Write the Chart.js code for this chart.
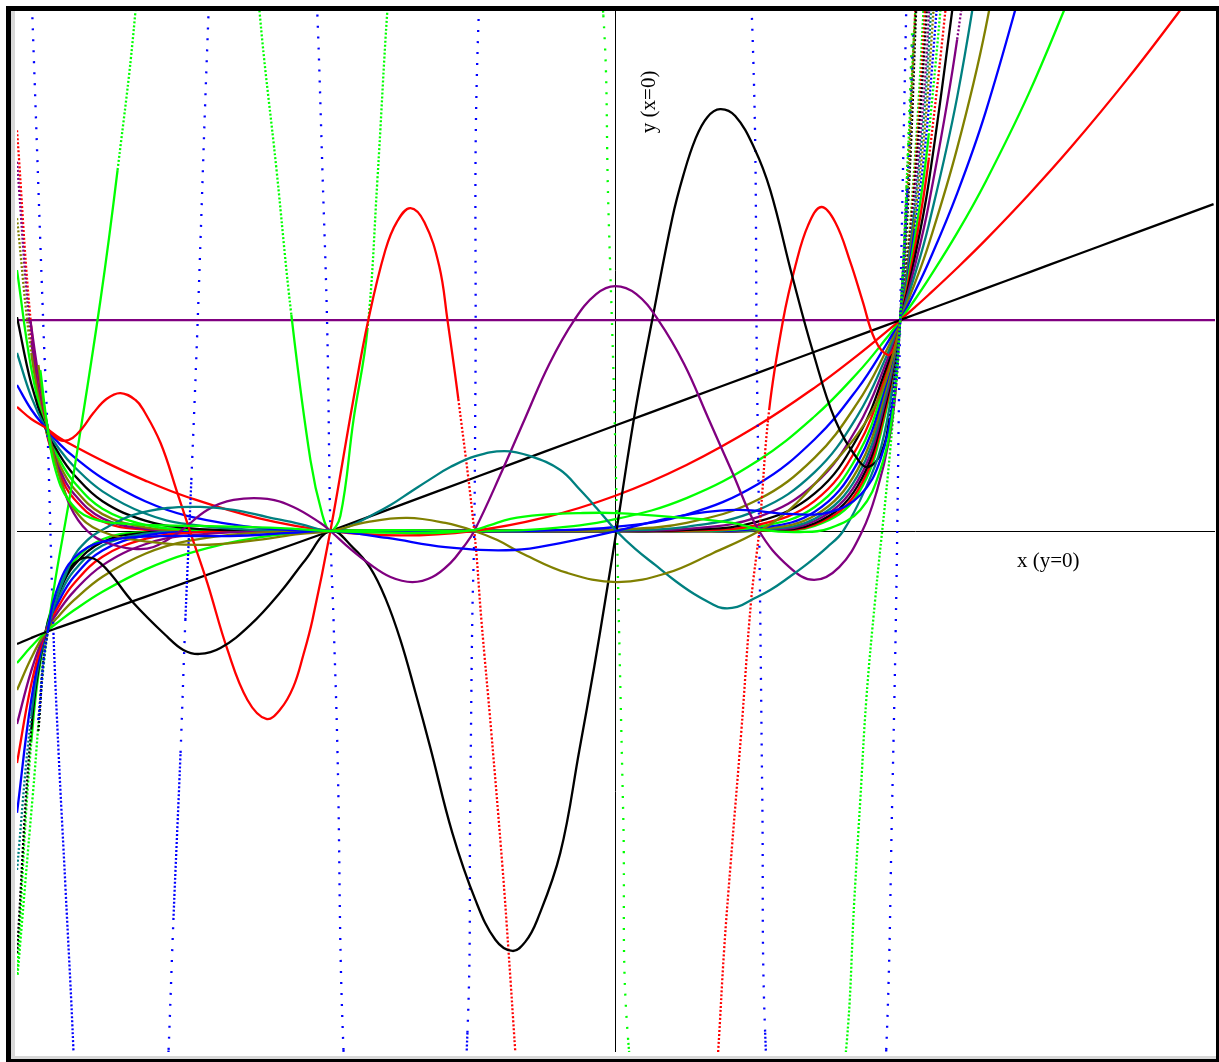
<!DOCTYPE html>
<html>
<head>
<meta charset="utf-8">
<script src="https://cdn.jsdelivr.net/npm/chart.js@4.4.1/dist/chart.umd.min.js"></script>
<style>
  html, body { margin: 0; padding: 0; background: #fff; }
  #wrap { position: relative; width: 1219px; height: 1062px; }
</style>
</head>
<body>
<div id="wrap"><canvas id="plot" width="1219" height="1062"></canvas></div>
<script>
// shared x grid for the fan of steepening curves
const fanX = [-2.1, -2.05, -2, -1.95, -1.9, -1.8, -1.65, -1.5, -1.25, -1, -0.75, -0.5, -0.25, 0, 0.25, 0.5, 0.7, 0.85, 0.95, 1, 1.05, 1.1, 1.2, 1.3, 1.45, 1.6, 1.8, 2.0, 2.1];

const fan1 = [-0.536,-0.507,-0.48,-0.456,-0.432,-0.384,-0.312,-0.24,-0.12, 0,0.125,0.25,0.375,0.5, 0.625,0.75,0.85,0.925,0.975, 1,1.025,1.05,1.1,1.15, 1.225,1.3,1.4,1.5,1.55];
const fan2 = [0.588,0.531,0.49,0.441,0.403,0.333,0.239,0.16,0.06, 0,-0.021,0,0.063,0.167, 0.313,0.5,0.68,0.833,0.943, 1,1.059,1.12,1.247,1.38, 1.593,1.82,2.147,2.5,2.687];
const fan3 = [-0.626,-0.548,-0.48,-0.426,-0.376,-0.288,-0.183,-0.107,-0.03, 0,0.004,0,0.01,0.056, 0.156,0.333,0.544,0.749,0.911, 1,1.094,1.195,1.413,1.656, 2.07,2.548,null,null,null];
const fan4 = [0.692,0.576,0.49,0.412,0.351,0.25,0.141,0.071,0.015, 0,-0.001,0,0.002,0.019, 0.078,0.222,0.435,0.674,0.881, 1,1.131,1.274,1.601,1.987, 2.691,null,null,null,null];
const fan5 = [-0.754,-0.602,-0.48,-0.398,-0.328,-0.217,-0.108,-0.047,-0.008, 0,0,0,0,0.006, 0.039,0.148,0.348,0.607,0.851, 1,1.169,1.359,1.815,2.385, 3.499,null,null,null,null];
const fan6 = [0.844,0.636,0.49,0.385,0.306,0.188,0.083,0.032,0.004, 0,0,0,0,0.002, 0.02,0.099,0.279,0.546,0.823, 1,1.208,1.45,2.057,2.862, null,null,null,null,null];
const fan7 = [-0.915,-0.663,-0.48,-0.372,-0.286,-0.163,-0.063,-0.021,-0.002, 0,0,0,0,0.001, 0.01,0.066,0.223,0.492,0.796, 1,1.248,1.547,2.331,3.434, null,null,null,null,null];
const fan8 = [1.014,0.698,0.49,0.36,0.267,0.141,0.049,0.014,0.001, 0,0,0,0,0, 0.005,0.044,0.178,0.442,0.769, 1,1.289,1.65,2.642,null, null,null,null,null,null];
const fan9 = [-1.1,-0.727,-0.48,-0.348,-0.249,-0.122,-0.037,-0.009,0, 0,0,0,0,0, 0.002,0.029,0.143,0.398,0.743, 1,1.332,1.76,2.994,null, null,null,null,null,null];
const fan10 = [1.237,0.771,0.49,0.336,0.232,0.106,0.029,0.006,0, 0,0,0,0,0, 0.001,0.02,0.114,0.358,0.719, 1,1.377,1.877,3.393,null, null,null,null,null,null];
const fan11 = [-1.336,-0.801,-0.48,-0.325,-0.217,-0.092,-0.022,-0.004,0, 0,0,0,0,0, 0.001,0.013,0.091,0.323,0.695, 1,1.423,2.002,3.85,null, null,null,null,null,null];
const fan12 = [1.483,0.844,0.49,0.314,0.202,0.08,0.017,0.003,0, 0,0,0,0,0, 0,0.009,0.073,0.29,0.672, 1,1.47,2.136,4.36,null, null,null,null,null,null];
const fan13 = [-1.607,-0.878,-0.48,-0.304,-0.189,-0.069,-0.013,-0.002,0, 0,0,0,0,0, 0,0.006,0.058,0.261,0.649, 1,1.519,2.278,4.94,null, null,null,null,null,null];
const fan14 = [1.75,0.903,0.49,0.294,0.176,0.06,0.01,0.001,0, 0,0,0,0,0, 0,0.004,0.047,0.235,0.628, 1,1.57,2.43,5.6,null, null,null,null,null,null];
const fan15 = [-2.0,-0.942,-0.48,-0.284,-0.164,-0.052,-0.008,-0.001,0, 0,0,0,0,0, 0,0.003,0.037,0.212,0.607, 1,1.622,2.592,null,null, null,null,null,null,null];
const fan16 = [1.9,0.967,0.49,0.274,0.153,0.045,0.006,0,0, 0,0,0,0,0, 0,0.002,0.03,0.19,0.586, 1,1.676,2.765,null,null, null,null,null,null,null];
const fan17 = [-2.1,-1.004,-0.48,-0.265,-0.143,-0.039,-0.004,0,0, 0,0,0,0,0, 0,0.001,0.024,0.171,0.567, 1,1.732,2.949,null,null, null,null,null,null,null];

const flatX = [-2.1, 2.105];
const flatY = [1, 1];

// wavy curves
const waveBlackX = [-2.025,-1.993,-1.923,-1.867,-1.807,-1.691,-1.572,-1.516,-1.46,-1.386,-1.281,-1.175,-1.088,-1.0,-0.919,-0.86,-0.807,-0.754,-0.702,-0.649,-0.572,-0.491,-0.421,-0.361,-0.316,-0.274,-0.193,-0.126,-0.074,-0.035,0.004,0.042,0.081,0.133,0.2,0.239,0.281,0.323,0.368,0.421,0.488,0.544,0.621,0.695,0.772,0.853,0.888,0.933,0.961,1.0,1.032,1.056];
const waveBlackY = [-0.948,-0.483,-0.199,-0.128,-0.152,-0.341,-0.502,-0.564,-0.583,-0.555,-0.445,-0.289,-0.137,0,-0.081,-0.175,-0.318,-0.517,-0.763,-1.028,-1.431,-1.749,-1.938,-1.991,-1.948,-1.844,-1.526,-1.038,-0.645,-0.327,0,0.336,0.654,1.024,1.483,1.687,1.858,1.962,2.0,1.967,1.815,1.616,1.209,0.844,0.526,0.336,0.303,0.37,0.526,1.0,1.664,2.469];

const waveRedX = [-2.025,-1.993,-1.965,-1.937,-1.905,-1.87,-1.832,-1.786,-1.737,-1.684,-1.656,-1.596,-1.537,-1.491,-1.432,-1.361,-1.291,-1.225,-1.175,-1.13,-1.095,-1.063,-1.0,-0.919,-0.867,-0.807,-0.765,-0.719,-0.67,-0.618,-0.589,-0.551,-0.495,-0.47,-0.435,-0.396,-0.375,-0.351,-0.316,0,0.326,0.361,0.382,0.404,0.442,0.477,0.505,0.54,0.589,0.632,0.677,0.723,0.772,0.825,0.867,0.912,0.958,0.982,1.0,1.028,1.053];
const waveRedY = [0.763,0.493,0.445,0.427,0.441,0.488,0.559,0.626,0.654,0.621,0.573,0.417,0.18,-0.009,-0.246,-0.564,-0.801,-0.891,-0.844,-0.739,-0.588,-0.422,0,0.626,1.0,1.332,1.469,1.531,1.464,1.256,1.0,0.626,0,-0.422,-0.957,-1.592,-1.986,-2.469,-3.17,-6,-3.17,-2.469,-1.986,-1.592,-0.957,-0.327,0,0.573,1.0,1.256,1.45,1.536,1.464,1.275,1.095,0.905,0.834,0.882,1.0,1.664,2.469];

const wavePurpleX = [-2.053,-2.025,-1.993,-1.958,-1.912,-1.853,-1.782,-1.691,-1.621,-1.526,-1.432,-1.34,-1.221,-1.13,-1.035,-1.0,-0.93,-0.867,-0.789,-0.712,-0.642,-0.579,-0.533,-0.495,-0.396,-0.316,-0.232,-0.144,-0.067,0,0.074,0.151,0.242,0.326,0.407,0.505,0.611,0.698,0.786,0.867,0.919,0.961,0.986,1.0,1.021,1.042];
const wavePurpleY = [1.0,0.739,0.493,0.303,0.114,0,-0.057,-0.085,-0.076,0,0.1,0.147,0.152,0.114,0.038,0,-0.085,-0.152,-0.218,-0.242,-0.218,-0.152,-0.076,0,0.289,0.536,0.791,1.0,1.123,1.161,1.123,1.0,0.791,0.536,0.289,0,-0.171,-0.232,-0.171,0,0.194,0.431,0.692,1.0,1.569,2.327];

const waveTealX = [-2.025,-1.993,-1.912,-1.853,-1.782,-1.691,-1.572,-1.456,-1.34,-1.221,-1.105,-1.0,-0.93,-0.86,-0.789,-0.719,-0.649,-0.579,-0.491,-0.389,-0.298,-0.193,-0.123,-0.06,0.004,0.07,0.14,0.211,0.277,0.333,0.375,0.428,0.477,0.544,0.611,0.677,0.744,0.8,0.881,0.933,0.972,1.0,1.025,1.046];
const waveTealY = [-0.896,-0.483,-0.152,-0.043,0.019,0.076,0.109,0.114,0.1,0.066,0.033,0,0.024,0.071,0.123,0.185,0.246,0.303,0.355,0.379,0.355,0.289,0.194,0.1,0,-0.085,-0.161,-0.237,-0.299,-0.341,-0.365,-0.36,-0.327,-0.28,-0.218,-0.152,-0.076,0,0.209,0.398,0.668,1.0,1.616,2.374];

const waveOliveX = [-2.025,-1.993,-1.947,-1.895,-1.807,-1.632,-1.456,-1.281,-1.105,-1.0,-0.867,-0.73,-0.596,-0.495,-0.414,-0.33,-0.168,0.007,0.182,0.344,0.505,0.611,0.744,0.853,0.93,0.975,1.0,1.025,1.049];
const waveOliveY = [0.787,0.493,0.242,0.095,0,-0.052,-0.066,-0.047,-0.014,0,0.043,0.062,0.038,0,-0.043,-0.104,-0.199,-0.242,-0.199,-0.104,0,0.1,0.289,0.464,0.645,0.834,1.0,1.569,2.374];

const waveBlueX = [-2.025,-1.993,-1.947,-1.877,-1.772,-1.596,-1.351,-1.14,-1.0,-0.8,-0.596,-0.354,-0.193,0.004,0.207,0.425,0.611,0.754,0.86,0.93,0.975,1.0,1.025,1.046];
const waveBlueY = [-0.896,-0.483,-0.232,-0.1,-0.043,-0.024,-0.024,-0.009,0,-0.033,-0.076,-0.09,-0.057,0,0.066,0.1,0.081,0.09,0.171,0.336,0.621,1.0,1.616,2.374];

const waveGreenX = [-2.018,-1.993,-1.965,-1.919,-1.842,-1.702,-1.456,-1.175,-1.0,-0.754,-0.614,-0.495,-0.439,-0.368,-0.263,-0.123,0.004,0.207,0.411,0.516,0.649,0.754,0.86,0.93,0.975,1.0,1.021,1.042];
const waveGreenY = [0.763,0.493,0.289,0.147,0.062,0.033,0.024,0.014,0,-0.009,-0.009,0.005,0.028,0.057,0.076,0.085,0.085,0.066,0.038,0.005,-0.005,0.014,0.1,0.289,0.573,1.0,1.569,2.374];

const bigGreenX = [-2.098,-2.046,-1.993,-1.902,-1.807,-1.747,-1.684,-1.467,-1.249,-1.189,-1.137,-1.07,-1.028,-1.0,-0.965,-0.919,-0.87,-0.835,-0.8,-0.421,-0.042,-0.025,-0.004,0.011,0.028,0.046,0.428,0.811,0.839,0.86,0.881,0.912,0.965,1.0,1.028,1.053];
const bigGreenY = [-2.104,-1.275,-0.483,0.265,1.095,1.711,2.469,6,2.469,1.711,1.024,0.336,0.076,0,0.071,0.526,0.953,1.664,2.469,10,2.445,1.569,0.626,-0.327,-1.355,-2.427,-8,-2.446,-1.749,-1.275,-0.801,-0.327,0.384,1.0,1.806,2.469];

const dotBlueX = [-2.046,-2.007,-1.993,-1.972,-1.954,-1.93,-1.902,-1.737,-1.568,-1.551,-1.526,-1.509,-1.488,-1.467,-1.428,-1.235,-1.046,-1.028,-1.011,-1.0,-0.989,-0.975,-0.954,-0.737,-0.519,-0.509,-0.502,-0.495,-0.491,-0.481,0,0.481,0.498,0.505,0.509,0.516,0.526,0.737,0.951,0.972,0.986,1.0,1.021];
const dotBlueY = [2.436,0.953,0.479,-0.483,-1.052,-1.687,-2.46,-8,-2.46,-1.844,-1.052,-0.422,0.242,0.953,2.445,9,2.46,1.711,0.953,0,-0.422,-1.052,-2.46,-9,-2.379,-1.275,-0.422,0,0.673,2.379,20,2.379,0.673,0,-0.422,-1.275,-2.379,-9,-2.46,-1.275,-0.327,1.0,2.46];

const cycleColors = ['#000000', '#ff0000', '#00ff00', '#0000ff', '#808000', '#008080', '#800080'];

// steep parts were plotted as separate samples, so they look dotted
function steepDash(ctx) {
    const dx = Math.abs(ctx.p1.x - ctx.p0.x);
    const dy = Math.abs(ctx.p1.y - ctx.p0.y);
    const s = dy / Math.max(dx, 0.001);
    if (s > 25) return [2, 9];
    if (s > 8) return [2, 2];
    return undefined;
}

function curve(xs, ys, color) {
    const data = [];
    xs.forEach((x, i) => {
        if (ys[i] !== null) data.push({ x: x, y: ys[i] });
    });
    return {
        data: data,
        borderColor: color,
        borderWidth: 2.3,
        pointRadius: 0,
        fill: false,
        tension: 0.4,
        capBezierPoints: false,
        borderCapStyle: 'butt',
        segment: { borderDash: steepDash }
    };
}

const datasets = [];
datasets.push(curve(waveGreenX, waveGreenY, '#00ff00'));
datasets.push(curve(waveBlueX, waveBlueY, '#0000ff'));
datasets.push(curve(waveOliveX, waveOliveY, '#808000'));
datasets.push(curve(waveTealX, waveTealY, '#008080'));
datasets.push(curve(wavePurpleX, wavePurpleY, '#800080'));
datasets.push(curve(waveBlackX, waveBlackY, '#000000'));
datasets.push(curve(waveRedX, waveRedY, '#ff0000'));
datasets.push(curve(bigGreenX, bigGreenY, '#00ff00'));
datasets.push(curve(dotBlueX, dotBlueY, '#0000ff'));

const fanSeries = [fan1, fan2, fan3, fan4, fan5, fan6, fan7, fan8, fan9, fan10, fan11, fan12, fan13, fan14, fan15, fan16, fan17];
fanSeries.forEach((ys, i) => {
    datasets.push(curve(fanX, ys, cycleColors[i % 7]));
});

datasets.push(curve(flatX, flatY, '#800080'));

// thin axes through the origin, snapped to whole pixels
const axesPlugin = {
    id: 'axes',
    beforeDatasetsDraw(chart) {
        const c = chart.ctx;
        const a = chart.chartArea;
        const x0 = Math.round(chart.scales.x.getPixelForValue(0)) + 0.5;
        const y0 = Math.round(chart.scales.y.getPixelForValue(0)) + 0.5;
        c.save();
        c.strokeStyle = '#000';
        c.lineWidth = 1;
        c.beginPath();
        c.moveTo(a.left, y0);
        c.lineTo(a.right, y0);
        c.moveTo(x0, a.top);
        c.lineTo(x0, a.bottom);
        c.stroke();
        c.restore();
    }
};

const framePlugin = {
    id: 'frame',
    afterDraw(chart) {
        const c = chart.ctx;
        const sx = chart.scales.x, sy = chart.scales.y;
        c.save();
        c.fillStyle = '#000';
        c.font = '21px "Liberation Serif", "Times New Roman", serif';
        c.textBaseline = 'alphabetic';
        c.textAlign = 'left';
        c.fillText('x (y=0)', sx.getPixelForValue(1.41), sy.getPixelForValue(-0.171));
        c.translate(sx.getPixelForValue(0.14), sy.getPixelForValue(1.886));
        c.rotate(-Math.PI / 2);
        c.fillText('y (x=0)', 0, 0);
        c.restore();

        c.save();
        c.fillStyle = '#d8d8d8';
        c.fillRect(11, 11, 4, 1048);
        c.fillRect(11, 1056, 1205, 3);
        c.fillStyle = '#000';
        c.fillRect(6, 6, 5, 1056);
        c.fillRect(6, 6, 1213, 5);
        c.fillRect(1216, 6, 3, 1056);
        c.fillRect(6, 1059, 1213, 3);
        c.restore();
    }
};

new Chart(document.getElementById('plot').getContext('2d'), {
    type: 'line',
    data: { datasets: datasets },
    options: {
        responsive: false,
        animation: false,
        layout: { padding: { left: 17, right: 4, top: 10, bottom: 10 } },
        plugins: { legend: { display: false }, tooltip: { enabled: false } },
        scales: {
            x: { type: 'linear', min: -2.1, max: 2.105, display: false },
            y: { type: 'linear', min: -2.47, max: 2.47, display: false }
        }
    },
    plugins: [axesPlugin, framePlugin]
});
</script>
</body>
</html>
